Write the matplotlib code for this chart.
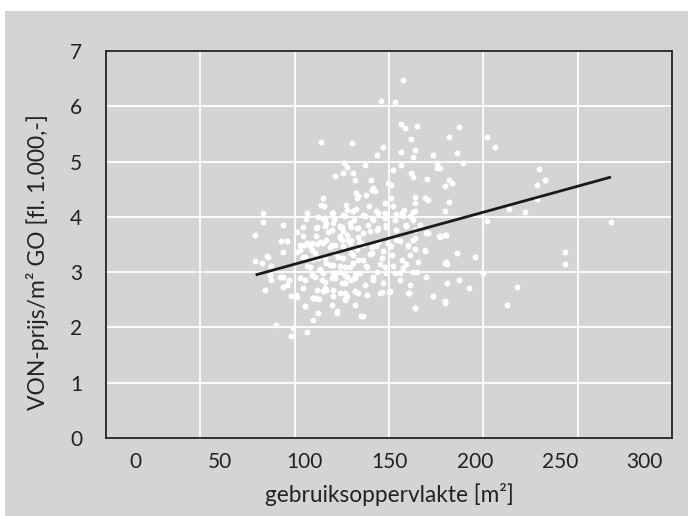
import numpy as np
import matplotlib
matplotlib.use("Agg")
import matplotlib.pyplot as plt
from matplotlib.patches import Rectangle

plt.rcParams["font.family"] = ["Lato", "DejaVu Sans"]

# (gebruiksoppervlakte m2, VON-prijs/m2 x fl. 1.000)
upper_pts = [
    (157.6, 6.47), (144.9, 6.10), (153.1, 6.07), (156.6, 5.68), (159.0, 5.61),
    (165.9, 5.64), (162.5, 5.41), (164.9, 5.21), (156.6, 5.17), (163.9, 5.09),
    (145.8, 5.27), (142.3, 5.12), (127.8, 5.33), (109.4, 5.35), (122.9, 4.97),
    (124.7, 4.90), (135.3, 4.94), (117.8, 4.73), (122.7, 4.80), (128.2, 4.80),
    (129.2, 4.66), (138.8, 4.66), (140.2, 4.53), (139.2, 4.49), (151.7, 4.84),
    (156.8, 4.94), (162.3, 4.79), (163.7, 4.72), (171.9, 4.69), (175.3, 5.12),
    (177.6, 4.97), (177.8, 4.88), (149.2, 4.62), (150.9, 4.58), (130.2, 4.43),
    (131.3, 4.37), (136.2, 4.40), (141.1, 4.46), (147.2, 4.25), (110.6, 4.34),
    (109.6, 4.21), (123.9, 4.21), (124.5, 4.13), (116.2, 4.07), (123.5, 4.01),
    (130.0, 4.15), (135.3, 4.01), (138.0, 4.19), (142.1, 4.10), (147.0, 4.07),
    (150.9, 4.34), (151.9, 4.19), (153.9, 4.06), (158.2, 4.12), (164.7, 4.36),
    (164.7, 4.25), (163.9, 4.08), (170.8, 4.34), (172.3, 4.31), (111.4, 4.19),
    (128.4, 4.10), (130.4, 4.34),
]

middle_pts = [
    (75.5, 4.07), (75.5, 3.90), (87.2, 3.86), (70.8, 3.68), (95.1, 3.72),
    (100.6, 3.96), (106.8, 3.80), (110.8, 3.96), (111.7, 3.83), (116.6, 3.89),
    (120.6, 3.83), (122.5, 3.74), (128.8, 3.95), (130.4, 3.80), (134.3, 3.71),
    (138.2, 3.74), (140.2, 3.95), (143.3, 3.80), (147.9, 3.86), (152.9, 3.95),
    (157.8, 4.01), (159.8, 3.83), (163.7, 3.95), (167.6, 3.86), (171.5, 3.71),
    (178.8, 3.65), (86.0, 3.57), (89.6, 3.57), (87.2, 3.36), (95.1, 3.36),
    (97.0, 3.50), (99.0, 3.65), (106.8, 3.65), (102.9, 3.47), (107.2, 3.51),
    (112.7, 3.59), (117.6, 3.50), (120.6, 3.65), (122.5, 3.47), (127.4, 3.59),
    (130.4, 3.41), (134.3, 3.50), (138.2, 3.32), (142.1, 3.47), (146.0, 3.38),
    (150.9, 3.47), (155.8, 3.56), (160.7, 3.47), (163.7, 3.59), (164.7, 3.41),
    (170.8, 3.39), (179.4, 3.65), (117.2, 3.96), (121.6, 3.82), (127.4, 3.82),
    (115.7, 3.76), (103.9, 3.52), (99.6, 3.49), (97.0, 3.40), (110.8, 3.52),
    (114.7, 3.46), (120.6, 3.61), (125.5, 3.58), (131.4, 3.64), (78.0, 3.28),
]

lower_pts = [
    (70.8, 3.21), (74.5, 3.17), (77.4, 3.29), (79.8, 3.11), (79.8, 2.86),
    (76.4, 2.68), (85.3, 2.92), (87.2, 2.74), (90.8, 2.86), (92.1, 2.56),
    (95.1, 2.55), (97.0, 2.90), (100.0, 2.38), (104.9, 2.14), (82.9, 2.05),
    (92.1, 1.84), (92.7, 1.99), (101.2, 1.91), (118.6, 2.26), (129.4, 2.41),
    (134.3, 2.20), (145.1, 2.64), (149.6, 2.64), (161.1, 2.62), (164.7, 2.35),
    (175.5, 2.56), (106.8, 2.53), (112.7, 2.68), (116.6, 2.68), (120.6, 2.62),
    (124.5, 2.56), (123.5, 2.80), (101.0, 3.11), (104.9, 3.23), (108.8, 3.05),
    (112.7, 3.17), (116.6, 2.98), (120.6, 3.11), (124.5, 2.92), (128.4, 3.17),
    (132.3, 2.98), (136.2, 3.11), (140.2, 2.92), (144.1, 3.14), (148.0, 2.98),
    (151.9, 3.11), (155.8, 2.98), (159.8, 3.14), (165.7, 3.01), (171.5, 2.92),
    (100.0, 3.28), (107.8, 3.25), (119.6, 3.28), (127.4, 3.34), (116.7, 3.13),
    (123.5, 3.10), (131.4, 3.22), (79.4, 2.95), (87.2, 2.92), (89.2, 2.77),
    (94.5, 2.59), (99.0, 2.71), (104.9, 2.53), (108.2, 2.51), (115.7, 2.41),
    (123.5, 2.51), (106.9, 2.68), (111.8, 2.71), (109.8, 2.86), (115.7, 2.89),
    (121.6, 2.80), (127.4, 2.86), (131.4, 2.62), (123.5, 2.62), (103.9, 2.95),
    (110.8, 2.98), (117.6, 2.98), (123.5, 2.95), (129.4, 2.95),
]

core_pts = [
    (116.7, 4.07), (122.5, 4.04), (128.4, 4.10), (134.3, 4.04), (139.2, 3.98),
    (143.1, 4.07), (147.1, 3.98), (156.9, 4.07), (161.8, 4.01), (164.7, 4.10),
    (101.0, 4.07), (107.8, 4.00), (111.8, 3.98), (99.0, 3.82), (106.9, 3.82),
    (112.7, 3.89), (120.6, 3.82), (126.5, 3.89), (131.4, 3.79), (137.3, 3.85),
    (142.2, 3.76), (148.0, 3.82), (153.9, 3.76), (159.8, 3.85), (164.7, 3.76),
    (172.5, 3.70), (113.7, 3.73), (124.5, 3.67), (101.0, 3.52), (108.8, 3.55),
    (115.7, 3.49), (121.6, 3.58), (126.5, 3.52), (132.4, 3.55), (139.2, 3.46),
    (143.1, 3.55), (149.0, 3.52), (153.9, 3.58), (160.8, 3.49), (164.7, 3.61),
    (170.6, 3.40), (103.9, 3.40), (99.0, 3.28), (105.9, 3.34), (111.8, 3.25),
    (117.6, 3.34), (122.5, 3.25), (128.4, 3.31), (134.3, 3.22), (139.2, 3.34),
    (145.1, 3.25), (151.0, 3.31), (156.9, 3.22), (161.8, 3.31), (166.7, 3.19),
    (103.0, 3.10), (108.8, 3.04), (114.7, 3.13), (120.6, 3.01), (126.5, 3.10),
    (131.4, 2.98), (136.3, 3.10), (142.2, 3.01), (147.1, 3.10), (152.9, 2.98),
    (157.8, 3.07), (163.7, 3.01), (100.0, 2.86), (105.9, 2.92), (111.8, 2.83),
    (117.6, 2.89), (123.5, 2.80), (129.4, 2.89), (135.3, 2.77), (140.2, 2.86),
    (146.1, 2.80), (155.9, 2.86), (161.8, 2.77), (104.9, 2.53), (110.8, 2.65),
    (116.7, 2.56), (123.5, 2.50), (129.4, 2.65), (136.3, 2.59), (144.1, 2.62),
    (150.0, 2.65), (160.8, 2.62), (100.0, 2.38), (107.8, 2.26), (118.6, 2.29),
    (133.3, 2.20), (164.7, 2.35),
]

right_pts = [
    (190.8, 5.63), (184.9, 5.45), (207.2, 5.45), (212.0, 5.27), (189.6, 5.16),
    (193.1, 4.98), (179.4, 4.88), (184.9, 4.66), (186.3, 4.62), (182.5, 4.55),
    (184.9, 4.26), (182.5, 4.11), (237.6, 4.87), (241.4, 4.66), (236.7, 4.58),
    (236.7, 4.33), (220.2, 4.15), (229.6, 4.08), (207.2, 3.93), (280.2, 3.90),
    (179.4, 3.64), (182.5, 3.68), (189.6, 3.35), (200.2, 3.28), (182.5, 3.17),
    (183.7, 3.14), (204.9, 2.99), (253.1, 3.36), (253.1, 3.14), (183.7, 2.81),
    (190.8, 2.85), (196.7, 2.71), (182.5, 2.45), (224.9, 2.74), (219.0, 2.41),
    (183.3, 3.19), (175.5, 2.56), (182.4, 2.47), (172.5, 3.70), (183.3, 3.67),
]

# regression line end points
fit_x = [71.0, 280.2]
fit_y = [2.95, 4.72]

x_ticks = [0, 50, 100, 150, 200, 250, 300]
y_ticks = [0, 1, 2, 3, 4, 5, 6, 7]

GRAY = "#d3d4d6"
INK = "#222222"

fig = plt.figure(figsize=(6.88, 5.16), dpi=100, facecolor="white")
bg = Rectangle((5 / 688, 0), 1, 1 - 11 / 516, transform=fig.transFigure,
               facecolor=GRAY, edgecolor="none", zorder=-10)
fig.add_artist(bg)
ax = fig.add_axes([106 / 688, 1 - 438 / 516, 566 / 688, 387 / 516])
ax.set_facecolor(GRAY)
ax.set_zorder(1)

pts = np.array(upper_pts + middle_pts + lower_pts + core_pts + right_pts)
ax.scatter(pts[:, 0], pts[:, 1], s=18, color="white", linewidths=0, zorder=3)
ax.plot(fit_x, fit_y, color="#1a1a1a", lw=2.0, solid_capstyle="butt", zorder=4)

ax.set_xlim(-17.1, 316.1)
ax.set_ylim(0, 7)
ax.set_xticks(x_ticks)
ax.set_yticks(y_ticks)
# the vertical grid splits the plot into six equal columns, not at the labels
lo, hi = ax.get_xlim()
ax.set_xticks(np.linspace(lo, hi, 7)[1:-1], minor=True)
ax.grid(which="minor", axis="x", color="white", lw=1.3)
ax.grid(which="major", axis="y", color="white", lw=1.3)
ax.grid(which="major", axis="x", visible=False)
ax.set_axisbelow(True)
ax.tick_params(which="both", length=0, labelsize=15, colors=INK)
ax.tick_params(axis="x", pad=10)
ax.tick_params(axis="y", pad=17)
for sp in ax.spines.values():
    sp.set_color(INK); sp.set_linewidth(1.3)

ax.set_xlabel("gebruiksoppervlakte [m²]", fontsize=16.3, color=INK)
ax.set_ylabel("VON-prijs/m² GO [fl. 1.000,-]", fontsize=16.5, color=INK)
ax.xaxis.label.set_va("center")
ax.yaxis.label.set_va("center")
ax.xaxis.set_label_coords(0.5, -0.147)
ax.yaxis.set_label_coords(-0.121, 0.455)

fig.savefig("out.png", dpi=100)
